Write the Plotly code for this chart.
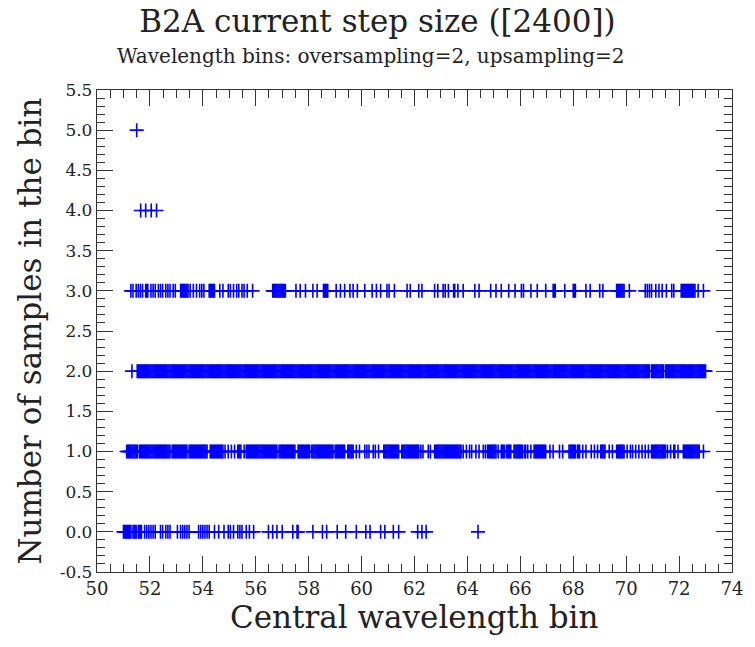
import plotly.graph_objects as go

# ---------------- data ----------------
# Occupancy of each count level on a grid of central-wavelength bins
# starting at 51.00 with spacing 0.04 ('#' = a sample point present).
# One 25-character chunk per unit interval 51..72, plus the bin at 73.00.
grid_start = 51.0
grid_step = 0.04

row0_chunks = [
    "########.####.####..#.#.#",  # 51
    ".#.#.#....#.#..#.#.#.....",  # 52
    ".#..#.#.#.#.#........#.#.",  # 53
    "#.#.#.#....#...#....#...#",  # 54
    ".#..#...#.#.#...#..#...#.",  # 55
    "............#...#...#....",  # 56
    "#.........#...##.........",  # 57
    "....#........#...#.......",  # 58
    "..#.......#.........#....",  # 59
    "....#...#.........#...#..",  # 60
    ".....#....#..............",  # 61
    "...#...#...#.............",  # 62
    ".........................",  # 63
    "..........#..............",  # 64
    ".........................",  # 65
    ".........................",  # 66
    ".........................",  # 67
    ".........................",  # 68
    ".........................",  # 69
    ".........................",  # 70
    ".........................",  # 71
    ".........................",  # 72
]
row0_last = "."

row1_chunks = [
    "...###########.##########",  # 51
    "####################.####",  # 52
    "###########.#############",  # 53
    "#####..#############.#..#",  # 54
    "..#..#..####..#.#########",  # 55
    "#####################.###",  # 56
    "#############..##########",  # 57
    "##.#####################.",  # 58
    "##########..######..#..#.",  # 59
    "...#.#.#...#.#..#....####",  # 60
    "###########..############",  # 61
    "#####.#.#....#.#...######",  # 62
    "####################.#..#",  # 63
    "..#.#...#..#...#.#.######",  # 64
    "###.#..####.#####..######",  # 65
    "###.##.#..#..############",  # 66
    "...#..#.....#..#.....####",  # 67
    "###.###..#..#....#..#..#.",  # 68
    ".#####...#..#...########.",  # 69
    ".#..#.#..#..#..#..#..#..#",  # 70
    "#############.#..#..##..#",  # 71
    "....################...#.",  # 72
]
row1_last = "."

row2_chunks = [
    "........#....############",  # 51
    "#########################",  # 52
    "#########################",  # 53
    "#########################",  # 54
    "#########################",  # 55
    "#########################",  # 56
    "#########################",  # 57
    "#########################",  # 58
    "#########################",  # 59
    "#########################",  # 60
    "#########################",  # 61
    "#########################",  # 62
    "#########################",  # 63
    "#########################",  # 64
    "#########################",  # 65
    "#########################",  # 66
    "#########################",  # 67
    "#########################",  # 68
    "#########################",  # 69
    "#######################.#",  # 70
    "###########.#############",  # 71
    "#########################",  # 72
]
row2_last = "#"

row3_chunks = [
    ".......#.#..#.#.#.#..###.",  # 51
    ".#.#.#..#.#.#..#.#.#..#.#",  # 52
    "....########.#..#..#..#.#",  # 53
    ".#....######....#..#....#",  # 54
    ".#..#..#.#..#.#..#....#..",  # 55
    "................#########",  # 56
    "####.........#...#....#..",  # 57
    "....#...#.....#####......",  # 58
    ".#...#...#....#..#...#...",  # 59
    "...#......#...#...#.....#",  # 60
    ".#....#...........#..#...",  # 61
    "....#..#...........#..#..",  # 62
    "..#.#..#....##..#....#...",  # 63
    ".......#...#..........#..",  # 64
    "..#....#......#.....#....",  # 65
    ".#.#......#.....#.......#",  # 66
    "......###........#.......",  # 67
    "###.........#...#........",  # 68
    "#..#............########.",  # 69
    "...#..............#.#.#.#",  # 70
    "...#..#..#...#....#.#....",  # 71
    "..##############..#....#.",  # 72
]
row3_last = "."

row4_x = [51.65, 51.84, 52.05, 52.25]
row5_x = [51.50]

count_levels = [0, 1, 2, 3, 4, 5]

x_ticks = [50, 52, 54, 56, 58, 60, 62, 64, 66, 68, 70, 72, 74]
y_tickvals = [-0.5, 0.0, 0.5, 1.0, 1.5, 2.0, 2.5, 3.0, 3.5, 4.0, 4.5, 5.0, 5.5]
y_ticktext = ["-0.5", "0.0", "0.5", "1.0", "1.5", "2.0", "2.5", "3.0",
              "3.5", "4.0", "4.5", "5.0", "5.5"]

title_text = "B2A current step size ([2400])"
subtitle_text = "Wavelength bins: oversampling=2, upsampling=2"
x_title = "Central wavelength bin"
y_title = "Number of samples in the bin"


def decode(chunks, last):
    s = "".join(chunks) + last
    return [round(grid_start + i * grid_step, 2) for i, c in enumerate(s) if c == "#"]


rows_x = [
    decode(row0_chunks, row0_last),
    decode(row1_chunks, row1_last),
    decode(row2_chunks, row2_last),
    decode(row3_chunks, row3_last),
    row4_x,
    row5_x,
]

xs, ys = [], []
for level, rx in zip(count_levels, rows_x):
    xs.extend(rx)
    ys.extend([level] * len(rx))

FONT = "DejaVu Serif"
BLUE = "#0000ff"
AXC = "#333333"

fig = go.Figure()
fig.add_trace(go.Scatter(
    x=xs, y=ys, mode="markers",
    marker=dict(symbol="cross-thin", size=10, color=BLUE,
                line=dict(color=BLUE, width=1.6)),
    cliponaxis=False, showlegend=False, hoverinfo="x+y",
))

fig.update_layout(
    width=755, height=647,
    margin=dict(l=97, r=14, t=90, b=75),
    paper_bgcolor="white", plot_bgcolor="white",
    font=dict(family=FONT, color="#222222"),
    title=dict(text=title_text, x=0.5, xref="container", xanchor="center",
               y=1 - 21 / 647, yref="container", yanchor="middle",
               font=dict(family=FONT, size=31, color="#222222")),
    annotations=[
        dict(text=subtitle_text, xref="paper", yref="paper",
             x=(375 - 97.3) / 643.7, y=(571.9 - 56) / 482.1,
             xanchor="center", yanchor="middle", showarrow=False,
             font=dict(family=FONT, size=20, color="#222222")),
        dict(text=x_title, xref="paper", yref="paper",
             x=0.5, y=(571.9 - 617) / 482.1,
             xanchor="center", yanchor="middle", showarrow=False,
             font=dict(family=FONT, size=31, color="#222222")),
        dict(text=y_title, xref="paper", yref="paper",
             x=(29 - 97.3) / 643.7, y=0.5, textangle=-90,
             xanchor="center", yanchor="middle", showarrow=False,
             font=dict(family=FONT, size=31, color="#222222")),
    ],
)

fig.update_xaxes(
    range=[50, 74], tickmode="array", tickvals=x_ticks,
    ticks="inside", ticklen=16, tickwidth=1.3, tickcolor=AXC,
    mirror="allticks", showline=True, linecolor=AXC, linewidth=1.3,
    showgrid=False, zeroline=False,
    tickfont=dict(family=FONT, size=18, color="#222222"),
    minor=dict(dtick=0.5, tick0=50, ticks="inside", ticklen=8,
               tickwidth=1.2, tickcolor=AXC, showgrid=False),
)
fig.update_yaxes(
    range=[-0.5, 5.5], tickmode="array", tickvals=y_tickvals, ticktext=y_ticktext,
    ticks="inside", ticklen=16, tickwidth=1.3, tickcolor=AXC,
    mirror="allticks", showline=True, linecolor=AXC, linewidth=1.3,
    showgrid=False, zeroline=False,
    tickfont=dict(family=FONT, size=17, color="#222222"),
    minor=dict(dtick=0.1, tick0=0, ticks="inside", ticklen=8,
               tickwidth=1.2, tickcolor=AXC, showgrid=False),
)

fig.write_html("out.html")
